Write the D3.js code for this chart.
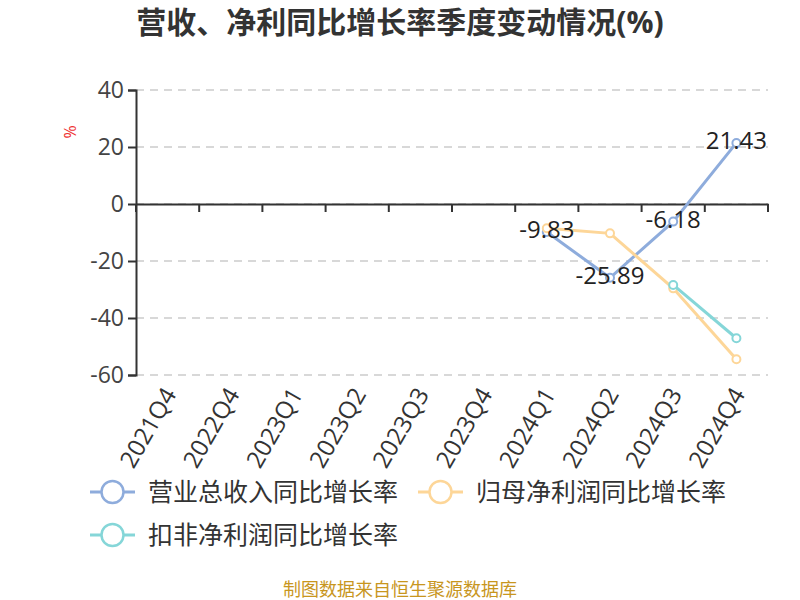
<!DOCTYPE html>
<html><head><meta charset="utf-8">
<script src="https://cdn.jsdelivr.net/npm/d3@7"></script>
<style>body{margin:0;background:#fff;}</style>
</head><body><svg id="c" width="800" height="600"></svg>
<script>
const categories = ["2021Q4","2022Q4","2023Q1","2023Q2","2023Q3","2023Q4","2024Q1","2024Q2","2024Q3","2024Q4"];
const revenue = [null,null,null,null,null,null,-9.83,-25.89,-6.18,21.43];
const parentProfit = [null,null,null,null,null,null,-8.5,-10.3,-29.6,-54.5];
const deductedProfit = [null,null,null,null,null,null,null,null,-28.4,-47.1];
const yTicks = [40,20,0,-20,-40,-60];
const seriesNames = ["营业总收入同比增长率","归母净利润同比增长率","扣非净利润同比增长率"];
const colors = ["#8eacdc","#fdd698","#85d6d8"];

const svg = d3.select("#c");
const font = '"Open Sans","Noto Sans CJK SC",sans-serif';
const x = d3.scaleBand().domain(categories).range([136,768]);
const y = d3.scaleLinear().domain([-60,40]).range([375,90]);

svg.append("text").attr("x",400).attr("y",33).attr("text-anchor","middle")
  .attr("font-size",30).attr("font-weight","bold").attr("fill","#333").attr("font-family",font)
  .text("营收、净利同比增长率季度变动情况(%)");

// grid
svg.append("g").selectAll("line").data(yTicks).join("line")
  .attr("x1",136).attr("x2",768).attr("y1",d=>y(d)).attr("y2",d=>y(d))
  .attr("stroke","#ccc").attr("stroke-width",1.5).attr("stroke-dasharray","8,6");

// y axis
const ya = svg.append("g").attr("transform","translate(136,0)")
  .call(d3.axisLeft(y).tickValues(yTicks).tickFormat(d=>String(d)).tickSize(8).tickPadding(4));
ya.select(".domain").attr("stroke","#333").attr("stroke-width",2);
ya.selectAll(".tick line").attr("stroke","#333").attr("stroke-width",2);
ya.selectAll("text").attr("font-size",23).attr("fill","#444").attr("font-family",font);

svg.append("text").attr("transform","translate(76,132) rotate(-90)").attr("text-anchor","middle")
  .attr("font-size",16).attr("fill","#e33").attr("font-family",font).text("%");

// x axis at zero
const xa = svg.append("g").attr("transform",`translate(0,${y(0)})`).call(d3.axisBottom(x).tickSize(0).tickFormat(""));
xa.select(".domain").attr("stroke","#333").attr("stroke-width",2);
const bounds = categories.map(c=>x(c)).concat([x.range()[1]]);
svg.append("g").selectAll("line").data(bounds).join("line")
  .attr("x1",d=>d).attr("x2",d=>d).attr("y1",y(0)).attr("y2",y(0)+8)
  .attr("stroke","#333").attr("stroke-width",2);

// x labels
svg.append("g").selectAll("text").data(categories).join("text")
  .attr("transform",d=>`translate(${x(d)+x.bandwidth()/2+4},${y(-60)+16}) rotate(-60)`)
  .attr("text-anchor","end").attr("dominant-baseline","middle")
  .attr("font-size",24).attr("fill","#333").attr("font-family",font).text(d=>d);

const series = [revenue,parentProfit,deductedProfit];
const line = d3.line().defined(d=>d.v!=null).x(d=>x(d.c)+x.bandwidth()/2).y(d=>y(d.v));
series.forEach((s,i)=>{
  const data = categories.map((c,j)=>({c,v:s[j]}));
  svg.append("path").datum(data).attr("d",line).attr("fill","none")
    .attr("stroke",colors[i]).attr("stroke-width",3);
  svg.append("g").selectAll("circle").data(data.filter(d=>d.v!=null)).join("circle")
    .attr("cx",d=>x(d.c)+x.bandwidth()/2).attr("cy",d=>y(d.v)).attr("r",4)
    .attr("fill","#fff").attr("stroke",colors[i]).attr("stroke-width",2);
});

// labels for revenue
svg.append("g").selectAll("text").data(categories.map((c,j)=>({c,v:revenue[j]})).filter(d=>d.v!=null)).join("text")
  .attr("x",d=>x(d.c)+x.bandwidth()/2).attr("y",d=>y(d.v)+6)
  .attr("text-anchor","middle").attr("font-size",24).attr("fill","#222").attr("font-family",font)
  .text(d=>d.v.toFixed(2));

// legend
const legendPos = [[90,492],[418,492],[90,535]];
seriesNames.forEach((n,i)=>{
  const [lx,ly] = legendPos[i];
  const g = svg.append("g");
  g.append("line").attr("x1",lx).attr("x2",lx+45).attr("y1",ly).attr("y2",ly).attr("stroke",colors[i]).attr("stroke-width",3);
  g.append("circle").attr("cx",lx+22.5).attr("cy",ly).attr("r",11).attr("fill","#fff").attr("stroke",colors[i]).attr("stroke-width",2.5);
  g.append("text").attr("x",lx+58).attr("y",ly+9).attr("font-size",25).attr("fill","#333").attr("font-family",font).text(n);
});

svg.append("text").attr("x",400).attr("y",596).attr("text-anchor","middle")
  .attr("font-size",18).attr("fill","#c8961e").attr("font-family",font).text("制图数据来自恒生聚源数据库");
</script></body></html>
